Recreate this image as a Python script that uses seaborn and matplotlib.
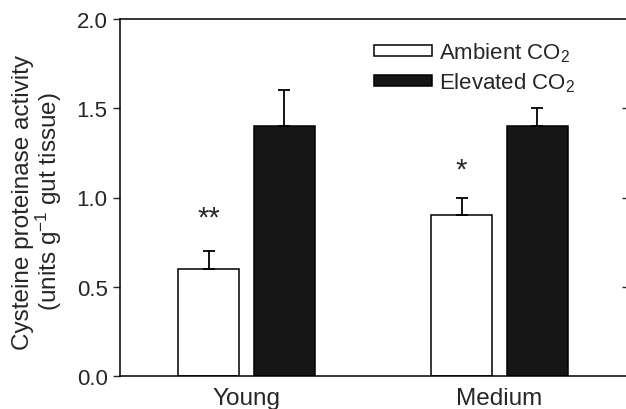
import matplotlib
matplotlib.use("Agg")
import matplotlib.pyplot as plt
import seaborn as sns
import pandas as pd

# data
ages = ["Young", "Medium"]
ambient = [0.6, 0.9]
elevated = [1.4, 1.4]
ambient_err = [0.1, 0.1]
elevated_err = [0.2, 0.1]
signif = ["**", "*"]
signif_y = [0.84, 1.11]
series = ["Ambient CO$_2$", "Elevated CO$_2$"]

sns.set_style("white")
plt.rcParams["font.family"] = ["Liberation Sans", "DejaVu Sans"]
plt.rcParams["mathtext.fontset"] = "custom"
plt.rcParams["mathtext.rm"] = "Liberation Sans"
plt.rcParams["mathtext.it"] = "Liberation Sans:italic"

df = pd.DataFrame({
    "Age": ages * 2,
    "Activity": ambient + elevated,
    "CO2": [series[0]] * 2 + [series[1]] * 2,
})

fig = plt.figure(figsize=(6.26, 4.10), dpi=100)
ax = fig.add_axes([120 / 626, 33 / 410, 506 / 626, 357 / 410])

sns.barplot(data=df, x="Age", y="Activity", hue="CO2", hue_order=series,
            palette=["white", "#161616"], edgecolor="black", linewidth=1.1,
            width=0.6, gap=0.2, legend=False, ax=ax)

for cont, errs in zip(ax.containers, [ambient_err, elevated_err]):
    xs = [p.get_x() + p.get_width() / 2 for p in cont.patches]
    ys = [p.get_height() for p in cont.patches]
    ax.errorbar(xs, ys, yerr=[[0] * len(errs), errs], fmt="none",
                ecolor="black", elinewidth=1.3, capsize=4.5, capthick=1.3)

amb_x = [p.get_x() + p.get_width() / 2 for p in ax.containers[0].patches]
for x, s, y in zip(amb_x, signif, signif_y):
    ax.text(x, y, s, ha="center", va="baseline", fontsize=21)

ax.set_xlim(-0.5, 1.5)
ax.set_ylim(0, 2.0)
ax.set_yticks([0.0, 0.5, 1.0, 1.5, 2.0])
ax.set_yticklabels(["0.0", "0.5", "1.0", "1.5", "2.0"])
ax.set_xlabel("")
ax.set_ylabel("Cysteine proteinase activity\n(units g$^{-1}$ gut tissue)",
              fontsize=17.5, linespacing=1.0)
ax.yaxis.set_label_coords(-0.11, 0.49)
ax.tick_params(axis="y", direction="out", length=5, width=1, labelsize=16,
               left=True, pad=4)
ax.tick_params(axis="x", length=0, labelsize=17.5, pad=8)

for side in ["left", "bottom", "top"]:
    ax.spines[side].set_color("black")
    ax.spines[side].set_linewidth(1.1)
ax.spines["right"].set_visible(False)

sec = ax.secondary_yaxis("right")
sec.set_yticks([0.5, 1.0, 1.5])
sec.tick_params(direction="in", length=3, width=1, labelright=False)
sec.spines["right"].set_visible(False)

ax.legend(ax.containers, series, loc="upper left",
          bbox_to_anchor=(245 / 506, 0.965), frameon=False, fontsize=16,
          handlelength=2.6, handleheight=0.35, handletextpad=0.35,
          labelspacing=0.3, borderaxespad=0)

fig.savefig("out.png", dpi=100)
